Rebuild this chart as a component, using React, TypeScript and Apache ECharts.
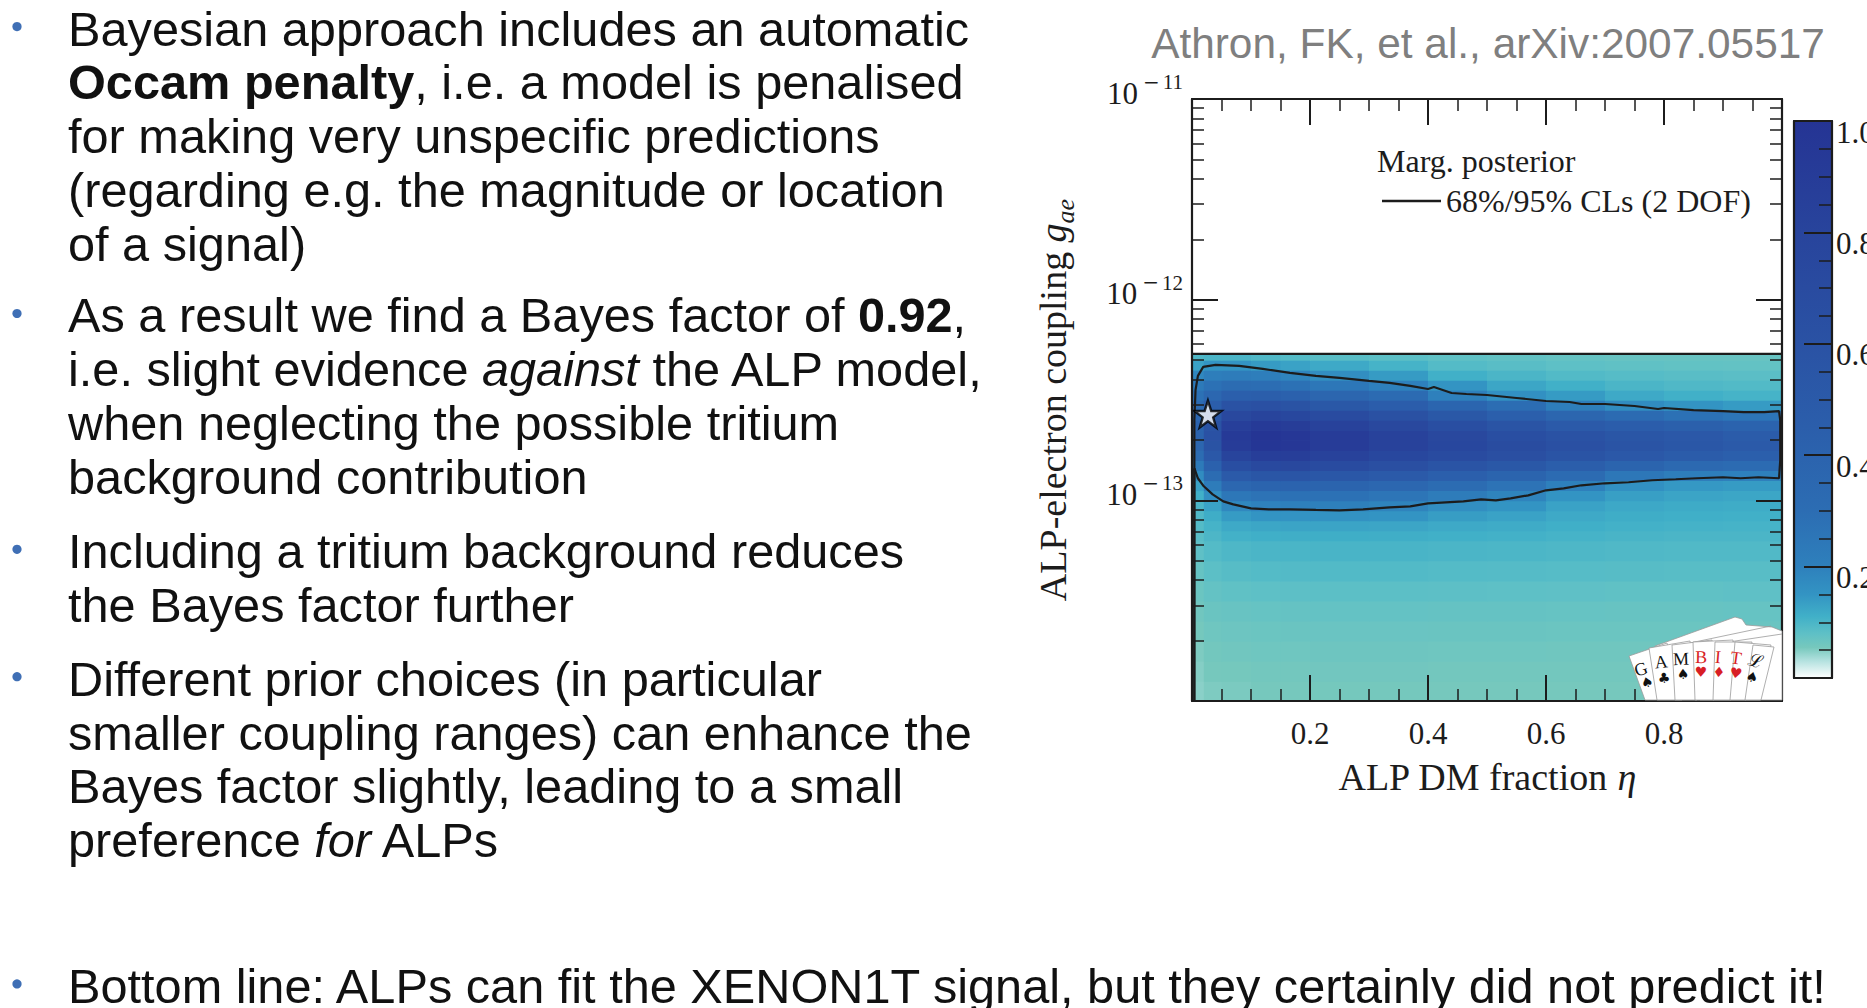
import React, { useEffect, useRef } from 'react';
import * as echarts from 'echarts';

// ---------------- slide text ----------------
const citation = 'Athron, FK, et al., arXiv:2007.05517';
const bullet1 = [
  'Bayesian approach includes an automatic',
  '{b|Occam penalty}, i.e. a model is penalised',
  'for making very unspecific predictions',
  '(regarding e.g. the magnitude or location',
  'of a signal)',
];
const bullet2 = [
  'As a result we find a Bayes factor of {b|0.92},',
  'i.e. slight evidence {i|against} the ALP model,',
  'when neglecting the possible tritium',
  'background contribution',
];
const bullet3 = ['Including a tritium background reduces', 'the Bayes factor further'];
const bullet4 = [
  'Different prior choices (in particular',
  'smaller coupling ranges) can enhance the',
  'Bayes factor slightly, leading to a small',
  'preference {i|for} ALPs',
];
const bottomLine = 'Bottom line: ALPs can fit the XENON1T signal, but they certainly did not predict it!';

// ---------------- chart data ----------------
// ALP DM fraction eta: column edges of the posterior grid
const etaEdges = [0, 0.02, 0.05, 0.1, 0.15, 0.2, 0.3, 0.4, 0.5, 0.6, 0.7, 0.8, 0.9, 1.0];
// log10(g_ae): row edges of the posterior grid (bottom -> top, prior edge at top)
const logGEdges = [
  -14.0, -13.9, -13.8, -13.7, -13.6, -13.5, -13.4, -13.3, -13.2, -13.15, -13.1, -13.05, -13.0,
  -12.95, -12.9, -12.85, -12.8, -12.75, -12.7, -12.65, -12.6, -12.55, -12.5, -12.45, -12.4, -12.35,
  -12.3, -12.27,
];
// marginalised posterior (normalised), rows bottom -> top, columns by eta
const posterior = [
  [0.047, 0.052, 0.053, 0.055, 0.055, 0.056, 0.056, 0.055, 0.055, 0.055, 0.055, 0.057, 0.058],
  [0.049, 0.055, 0.056, 0.058, 0.058, 0.059, 0.059, 0.058, 0.058, 0.058, 0.058, 0.059, 0.06],
  [0.052, 0.058, 0.06, 0.062, 0.062, 0.063, 0.063, 0.062, 0.062, 0.061, 0.061, 0.062, 0.063],
  [0.056, 0.062, 0.064, 0.066, 0.067, 0.068, 0.068, 0.067, 0.067, 0.066, 0.066, 0.066, 0.067],
  [0.06, 0.067, 0.07, 0.072, 0.073, 0.074, 0.074, 0.073, 0.073, 0.072, 0.071, 0.071, 0.072],
  [0.066, 0.074, 0.078, 0.08, 0.081, 0.082, 0.082, 0.081, 0.08, 0.079, 0.078, 0.078, 0.079],
  [0.072, 0.082, 0.087, 0.09, 0.091, 0.092, 0.092, 0.09, 0.089, 0.088, 0.087, 0.086, 0.086],
  [0.079, 0.09, 0.097, 0.1, 0.101, 0.102, 0.102, 0.1, 0.099, 0.097, 0.095, 0.094, 0.094],
  [0.085, 0.098, 0.108, 0.112, 0.113, 0.114, 0.113, 0.11, 0.108, 0.105, 0.102, 0.1, 0.1],
  [0.09, 0.105, 0.12, 0.125, 0.127, 0.128, 0.126, 0.12, 0.117, 0.112, 0.108, 0.106, 0.105],
  [0.095, 0.115, 0.14, 0.15, 0.152, 0.155, 0.15, 0.138, 0.13, 0.12, 0.115, 0.112, 0.11],
  [0.1, 0.13, 0.18, 0.195, 0.2, 0.2, 0.19, 0.165, 0.15, 0.13, 0.122, 0.118, 0.116],
  [0.11, 0.165, 0.25, 0.27, 0.28, 0.28, 0.26, 0.22, 0.19, 0.15, 0.135, 0.128, 0.125],
  [0.13, 0.22, 0.36, 0.39, 0.4, 0.39, 0.36, 0.31, 0.27, 0.2, 0.16, 0.145, 0.14],
  [0.17, 0.31, 0.5, 0.55, 0.56, 0.54, 0.5, 0.44, 0.39, 0.32, 0.25, 0.21, 0.2],
  [0.23, 0.42, 0.66, 0.73, 0.74, 0.7, 0.64, 0.58, 0.53, 0.45, 0.39, 0.34, 0.32],
  [0.31, 0.52, 0.8, 0.88, 0.88, 0.83, 0.76, 0.7, 0.64, 0.57, 0.52, 0.47, 0.44],
  [0.37, 0.59, 0.9, 0.98, 0.96, 0.9, 0.82, 0.76, 0.69, 0.63, 0.58, 0.54, 0.5],
  [0.4, 0.61, 0.92, 0.99, 0.96, 0.9, 0.82, 0.74, 0.66, 0.6, 0.55, 0.52, 0.48],
  [0.4, 0.59, 0.86, 0.93, 0.89, 0.83, 0.75, 0.66, 0.57, 0.5, 0.46, 0.43, 0.4],
  [0.37, 0.53, 0.75, 0.8, 0.76, 0.7, 0.62, 0.53, 0.44, 0.37, 0.32, 0.28, 0.26],
  [0.33, 0.45, 0.6, 0.63, 0.59, 0.53, 0.46, 0.38, 0.3, 0.21, 0.17, 0.15, 0.14],
  [0.28, 0.36, 0.44, 0.45, 0.42, 0.37, 0.32, 0.2, 0.16, 0.14, 0.12, 0.11, 0.105],
  [0.23, 0.28, 0.31, 0.3, 0.28, 0.25, 0.2, 0.15, 0.125, 0.11, 0.1, 0.095, 0.092],
  [0.18, 0.21, 0.22, 0.21, 0.19, 0.165, 0.14, 0.11, 0.1, 0.092, 0.088, 0.085, 0.083],
  [0.13, 0.15, 0.15, 0.14, 0.13, 0.12, 0.105, 0.09, 0.085, 0.08, 0.078, 0.076, 0.075],
  [0.095, 0.1, 0.1, 0.095, 0.09, 0.085, 0.082, 0.078, 0.075, 0.072, 0.07, 0.07, 0.07],
];
// 68% credible contour (closed), eta and log10(g_ae)
const contour68Eta = [
  0.004, 0.004, 0.006, 0.01, 0.019, 0.04, 0.08, 0.12, 0.166, 0.21, 0.25, 0.3, 0.335, 0.37, 0.4, 0.41,
  0.44, 0.465, 0.5, 0.55, 0.6, 0.64, 0.66, 0.7, 0.75, 0.79, 0.8, 0.85, 0.9, 0.935, 0.97, 0.995, 0.997,
  0.997, 0.995, 0.96, 0.93, 0.9, 0.856, 0.82, 0.78, 0.74, 0.7, 0.66, 0.63, 0.6, 0.57, 0.54, 0.515,
  0.49, 0.46, 0.43, 0.4, 0.37, 0.335, 0.29, 0.25, 0.21, 0.166, 0.13, 0.1, 0.07, 0.053, 0.035, 0.02,
  0.01, 0.004,
];
const contour68LogG = [
  -12.84, -12.6, -12.45, -12.38, -12.335, -12.325, -12.33, -12.345, -12.365, -12.38, -12.39, -12.405,
  -12.415, -12.43, -12.445, -12.435, -12.465, -12.47, -12.475, -12.49, -12.505, -12.51, -12.52,
  -12.52, -12.53, -12.545, -12.54, -12.55, -12.555, -12.56, -12.56, -12.555, -12.6, -12.8, -12.89,
  -12.885, -12.89, -12.885, -12.89, -12.895, -12.9, -12.91, -12.915, -12.925, -12.94, -12.95,
  -12.975, -12.99, -13.0, -12.995, -13.005, -13.01, -13.015, -13.03, -13.035, -13.045, -13.05,
  -13.048, -13.045, -13.045, -13.04, -13.02, -13.005, -12.97, -12.93, -12.89, -12.84,
];
// 95% contour pieces (prior edge on top, eta ~ 0 edge on the left)
const contour95TopEta = [0, 1];
const contour95TopLogG = [-12.27, -12.27];
const contour95LeftEta = [0.004, 0.004];
const contour95LeftLogG = [-12.84, -14.0];
// best-fit point
const bestFitEta = [0.027];
const bestFitLogG = [-12.57];
// axis / colorbar ranges
const xRange = [0, 1];
const gRange = [1e-14, 1e-11];
const colorbarRange = [0, 1];
// colour map (value, colour)
const cmapStops: [number, string][] = [
  [0.0, '#ffffff'],
  [0.03, '#b5e2e0'],
  [0.055, '#76c8bd'],
  [0.08, '#5ec0c6'],
  [0.11, '#41b0c8'],
  [0.15, '#3394c3'],
  [0.2, '#2e80bc'],
  [0.3, '#2c6db3'],
  [0.45, '#2b5eab'],
  [0.6, '#2a52a4'],
  [0.8, '#28449c'],
  [1.0, '#253494'],
];

const LEG = '68%/95% CLs (2 DOF)';
const SERIF = '"Liberation Serif", "Times New Roman", serif';
const SANS = '"Liberation Sans", Arial, sans-serif';
const NARROW = '"Liberation Sans Narrow", "Liberation Sans", sans-serif';
const INK = '#1c1c1c';
const BODY = '#111111';

function cmap(v: number): string {
  for (let i = 0; i < cmapStops.length - 1; i++) {
    const [a, ca] = cmapStops[i];
    const [b, cb] = cmapStops[i + 1];
    if (v <= b) return echarts.color.lerp((v - a) / (b - a), [ca, cb]) as string;
  }
  return cmapStops[cmapStops.length - 1][1];
}

export default function App() {
  const ref = useRef<HTMLDivElement>(null);
  useEffect(() => {
    const el = ref.current as HTMLDivElement;
    const chart = echarts.init(el, null, { renderer: 'svg' });

    const ctx = document.createElement('canvas').getContext('2d') as CanvasRenderingContext2D;
    ctx.font = `100px ${SANS}`;
    const fitSize =
      (100 * 1778 / ctx.measureText(bottomLine).width + 100 * 888 / ctx.measureText(bullet1[0]).width) / 2;
    const bodySize = Math.min(fitSize, 48.2);
    const bodyScaleX = 1.01;
    ctx.font = `100px ${NARROW}`;
    const citeSize = 100 * 674 / ctx.measureText(citation).width;

    const palette: string[] = [];
    for (let i = 0; i <= 200; i++) palette.push(cmap(i / 200));

    const heatData: number[][] = [];
    for (let r = 0; r < logGEdges.length - 1; r++) {
      for (let c = 0; c < etaEdges.length - 1; c++) {
        heatData.push([
          etaEdges[c], etaEdges[c + 1],
          Math.pow(10, logGEdges[r]), Math.pow(10, logGEdges[r + 1]),
          posterior[r][c],
        ]);
      }
    }
    const pairs = (xs: number[], ls: number[]) => xs.map((x, i) => [x, Math.pow(10, ls[i])]);

    const minorLogTicks: number[] = [];
    for (let n = -14; n < -11; n++) for (let k = 2; k <= 9; k++) minorLogTicks.push(n + Math.log10(k));

    const axisLineStyle = { color: INK, width: 2.2 };
    const majorTick = (len: number) => ({ show: true, inside: true, length: len, lineStyle: { color: INK, width: 2 } });
    const minorTickOpt = (len: number) => ({ show: true, splitNumber: 4, length: len, lineStyle: { color: INK, width: 1.5 } });
    const noSplit = { show: false };

    const LH = 42;
    const bodyRich = {
      b: { fontSize: bodySize, fontFamily: SANS, fontWeight: 'bold', fill: BODY, lineHeight: LH },
      i: { fontSize: bodySize, fontFamily: SANS, fontStyle: 'italic', fill: BODY, lineHeight: LH },
    };

    const elements: any[] = [];
    const paragraphs = [bullet1, bullet2, bullet3, bullet4, [bottomLine]];
    const paraTop = [28.6, 315.5, 551.3, 678.7, 985.9];
    const LINE = 53.9;
    paragraphs.forEach((lines, p) => {
      elements.push({ type: 'circle', z: 100, shape: { cx: 17, cy: paraTop[p] - 2, r: 4.6 }, style: { fill: '#3f6fb5' } });
      lines.forEach((txt, i) => {
        elements.push({
          type: 'text', z: 100, x: 68, y: paraTop[p] + i * LINE, scaleX: bodyScaleX,
          style: { text: txt, fontSize: bodySize, fontFamily: SANS, fill: BODY, lineHeight: LH, align: 'left', verticalAlign: 'middle', rich: bodyRich },
        });
      });
    });
    elements.push({
      type: 'text', z: 100, x: 1488, y: 43,
      style: { text: citation, fontSize: citeSize, fontFamily: NARROW, fill: '#7f7f7f', align: 'center', verticalAlign: 'middle' },
    });
    elements.push({
      type: 'text', z: 100, x: 1377, y: 161,
      style: { text: 'Marg. posterior', fontSize: 32, fontFamily: SERIF, fill: INK, align: 'left', verticalAlign: 'middle' },
    });

    // GAMBIT playing-card logo
    const cardStroke = { fill: '#ffffff', stroke: '#9a9a9a', lineWidth: 0.8 };
    elements.push({ type: 'polygon', z: 110, shape: { points: [[1655, 646], [1735, 617], [1742, 619], [1746, 625], [1772, 627], [1782, 631], [1782, 700], [1700, 700]] }, style: cardStroke });
    elements.push({ type: 'line', z: 110, shape: { x1: 1690, y1: 643, x2: 1771, y2: 626 }, style: { stroke: '#9a9a9a', lineWidth: 0.8 } });
    elements.push({ type: 'line', z: 110, shape: { x1: 1722, y1: 643, x2: 1782, y2: 634 }, style: { stroke: '#9a9a9a', lineWidth: 0.8 } });
    const cardPolys = [
      [[1645, 700], [1629, 656], [1667, 643], [1682, 700]],
      [[1657, 700], [1649, 648], [1690, 641], [1697, 700]],
      [[1675, 700], [1672, 645], [1712, 640], [1714, 700]],
      [[1695, 700], [1693, 642], [1733, 640], [1731, 700]],
      [[1713, 700], [1715, 642], [1752, 642], [1746, 700]],
      [[1730, 700], [1735, 642], [1771, 645], [1760, 700]],
      [[1745, 700], [1753, 645], [1774, 647], [1761, 700]],
    ];
    const cardLetters: [string, number, number, number][] = [
      ['G', 1641, 669, 0.3], ['A', 1661, 662, 0.1], ['M', 1681, 659, 0.04], ['B', 1701, 657, -0.02],
      ['I', 1718, 657, -0.08], ['T', 1736, 658, -0.15], ['ℒ', 1756, 661, -0.25],
    ];
    const cardSuits: [string, number, number][] = [
      ['♠', 1647, 682], ['♣', 1664, 678], ['♠', 1683, 674], ['♥', 1701, 672], ['♦', 1719, 672], ['♥', 1736, 673], ['♠', 1752, 677],
    ];
    const redCard = [false, false, false, true, true, true, false];
    cardPolys.forEach((pts, i) => {
      elements.push({ type: 'polygon', z: 111 + i, shape: { points: pts }, style: cardStroke });
      const [ch, lx, ly, rot] = cardLetters[i];
      const col = redCard[i] ? '#d81e25' : '#111111';
      elements.push({ type: 'text', z: 111 + i, x: lx, y: ly, rotation: rot, style: { text: ch, fontSize: 18, fontFamily: i === 6 ? '"DejaVu Serif", serif' : SERIF, fill: col, align: 'center', verticalAlign: 'middle' } });
      const [s, sx, sy] = cardSuits[i];
      elements.push({ type: 'text', z: 111 + i, x: sx, y: sy, rotation: rot, style: { text: s, fontSize: 14, fontFamily: '"DejaVu Sans", sans-serif', fill: col, align: 'center', verticalAlign: 'middle' } });
    });

    const starPath = 'path://M50,0 L61.8,35.1 L98.1,35.1 L68.8,56.7 L79.4,91 L50,70 L20.6,91 L31.2,56.7 L1.9,35.1 L38.2,35.1 Z';

    const option: any = {
      animation: false,
      backgroundColor: '#ffffff',
      grid: [
        { left: 1192, top: 99, width: 590, height: 602, outerBoundsMode: 'none', containLabel: false },
        { left: 1794, top: 121, width: 38, height: 557, outerBoundsMode: 'none', containLabel: false },
      ],
      legend: {
        data: [LEG], left: 1377, top: 180, itemWidth: 59, itemHeight: 2.4, icon: 'rect', selectedMode: false,
        textStyle: { fontFamily: SERIF, fontSize: 32, color: INK },
      },
      visualMap: [{ type: 'continuous', show: false, min: 0, max: 1, dimension: 4, seriesIndex: 0, inRange: { color: palette } }],
      xAxis: [
        {
          gridIndex: 0, type: 'value', position: 'bottom', min: xRange[0], max: xRange[1], interval: 0.2, z: 5,
          axisLine: { show: true, onZero: false, lineStyle: axisLineStyle },
          axisTick: majorTick(26), minorTick: minorTickOpt(12), splitLine: noSplit,
          axisLabel: { show: true, margin: 17, fontSize: 31, fontFamily: SERIF, color: INK, showMinLabel: false, showMaxLabel: false, formatter: (v: number) => v.toFixed(1) },
          name: '{n|ALP DM fraction }{i|η}', nameLocation: 'middle', nameGap: 57,
          nameTextStyle: { rich: {
            n: { fontSize: 38, fontFamily: SERIF, color: INK },
            i: { fontSize: 38, fontFamily: SERIF, fontStyle: 'italic', color: INK },
          } },
        },
        {
          gridIndex: 0, type: 'value', position: 'top', min: xRange[0], max: xRange[1], interval: 0.2, z: 5,
          axisLine: { show: true, onZero: false, lineStyle: axisLineStyle },
          axisTick: majorTick(26), minorTick: minorTickOpt(12), splitLine: noSplit, axisLabel: { show: false },
        },
        {
          gridIndex: 1, type: 'value', position: 'bottom', min: 0, max: 1, z: 5,
          axisLine: { show: true, onZero: false, lineStyle: axisLineStyle },
          axisTick: { show: false }, axisLabel: { show: false }, splitLine: noSplit,
        },
        {
          gridIndex: 1, type: 'value', position: 'top', min: 0, max: 1, z: 5,
          axisLine: { show: true, onZero: false, lineStyle: axisLineStyle },
          axisTick: { show: false }, axisLabel: { show: false }, splitLine: noSplit,
        },
      ],
      yAxis: [
        {
          gridIndex: 0, type: 'log', logBase: 10, min: gRange[0], max: gRange[1], position: 'left', z: 5,
          axisLine: { show: true, onZero: false, lineStyle: axisLineStyle },
          axisTick: majorTick(26), minorTick: { show: false }, splitLine: noSplit,
          axisLabel: {
            show: true, margin: 9, showMinLabel: false,
            formatter: (v: number) => `{b|10}{m|−}{s|${Math.abs(Math.round(Math.log10(v)))}}`,
            rich: {
              b: { fontSize: 31, fontFamily: SERIF, color: INK, height: 31, padding: [6, 0, 18, 0] },
              m: { fontSize: 20, fontFamily: '"DejaVu Serif", serif', color: INK, height: 20, verticalAlign: 'top', padding: [0, 1, 0, 5] },
              s: { fontSize: 21, fontFamily: SERIF, color: INK, height: 21, verticalAlign: 'top', padding: [0, 0, 0, 2] },
            },
          },
          name: '{n|ALP-electron coupling }{g|g}{sub|ae}', nameLocation: 'middle', nameGap: 114, nameRotate: 90,
          nameTextStyle: { rich: {
            n: { fontSize: 38, fontFamily: SERIF, color: INK, height: 38, padding: [0, 0, 6, 0], verticalAlign: 'top' },
            g: { fontSize: 38, fontFamily: SERIF, fontStyle: 'italic', color: INK, height: 38, padding: [0, 0, 6, 0], verticalAlign: 'top' },
            sub: { fontSize: 26, fontFamily: SERIF, fontStyle: 'italic', color: INK, height: 26, verticalAlign: 'bottom' },
          } },
        },
        {
          gridIndex: 0, type: 'value', min: -14, max: -11, position: 'left', z: 5,
          axisLine: { show: false, onZero: false },
          axisTick: { show: true, inside: true, length: 12, customValues: minorLogTicks, lineStyle: { color: INK, width: 1.5 } },
          axisLabel: { show: false }, splitLine: noSplit,
        },
        {
          gridIndex: 0, type: 'log', logBase: 10, min: gRange[0], max: gRange[1], position: 'right', z: 5,
          axisLine: { show: true, onZero: false, lineStyle: axisLineStyle },
          axisTick: majorTick(26), minorTick: { show: false }, splitLine: noSplit, axisLabel: { show: false },
        },
        {
          gridIndex: 0, type: 'value', min: -14, max: -11, position: 'right', z: 5,
          axisLine: { show: false, onZero: false },
          axisTick: { show: true, inside: true, length: 12, customValues: minorLogTicks, lineStyle: { color: INK, width: 1.5 } },
          axisLabel: { show: false }, splitLine: noSplit,
        },
        {
          gridIndex: 1, type: 'value', min: colorbarRange[0], max: colorbarRange[1], interval: 0.2, position: 'right', z: 5,
          axisLine: { show: true, onZero: false, lineStyle: axisLineStyle },
          axisTick: majorTick(28), minorTick: minorTickOpt(13), splitLine: noSplit,
          axisLabel: {
            show: true, margin: 4, showMinLabel: false,
            formatter: (v: number) => `{v|${v.toFixed(1)}}`,
            rich: { v: { fontSize: 31, fontFamily: SERIF, color: INK, height: 31, padding: [22, 0, 0, 0] } },
          },
        },
        {
          gridIndex: 1, type: 'value', min: 0, max: 1, position: 'left', z: 5,
          axisLine: { show: true, onZero: false, lineStyle: axisLineStyle },
          axisTick: { show: false }, axisLabel: { show: false }, splitLine: noSplit,
        },
      ],
      series: [
        {
          type: 'custom', name: 'Marg. posterior', xAxisIndex: 0, yAxisIndex: 0, z: 1, silent: true,
          data: heatData, encode: { x: [0, 1], y: [2, 3] },
          renderItem: (params: any, api: any) => {
            const p0 = api.coord([api.value(0), api.value(2)]);
            const p1 = api.coord([api.value(1), api.value(3)]);
            return {
              type: 'rect',
              shape: { x: p0[0], y: p1[1], width: p1[0] - p0[0] + 0.8, height: p0[1] - p1[1] + 0.8 },
              style: { fill: api.visual('color') },
            };
          },
        },
        {
          type: 'custom', name: 'colorbar', xAxisIndex: 2, yAxisIndex: 4, z: 1, silent: true,
          data: [[0, colorbarRange[0], 1, colorbarRange[1]]], encode: { x: [0, 2], y: [1, 3] },
          renderItem: (params: any, api: any) => {
            const a = api.coord([api.value(0), api.value(1)]);
            const b = api.coord([api.value(2), api.value(3)]);
            return {
              type: 'rect',
              shape: { x: a[0], y: b[1], width: b[0] - a[0], height: a[1] - b[1] },
              style: { fill: new echarts.graphic.LinearGradient(0, 1, 0, 0, cmapStops.map(([o, c]) => ({ offset: o, color: c }))) },
            };
          },
        },
        {
          type: 'line', name: LEG, xAxisIndex: 0, yAxisIndex: 0, z: 3, silent: true,
          data: pairs(contour68Eta, contour68LogG), symbol: 'none', showSymbol: false,
          lineStyle: { color: INK, width: 2.2 }, itemStyle: { color: INK },
        },
        {
          type: 'line', name: LEG, xAxisIndex: 0, yAxisIndex: 0, z: 3, silent: true,
          data: pairs(contour95TopEta, contour95TopLogG), symbol: 'none', showSymbol: false,
          lineStyle: { color: INK, width: 2.2 }, itemStyle: { color: INK },
        },
        {
          type: 'line', name: LEG, xAxisIndex: 0, yAxisIndex: 0, z: 3, silent: true,
          data: pairs(contour95LeftEta, contour95LeftLogG), symbol: 'none', showSymbol: false,
          lineStyle: { color: INK, width: 2.6 }, itemStyle: { color: INK },
        },
        {
          type: 'scatter', name: 'best fit', xAxisIndex: 0, yAxisIndex: 0, z: 4, silent: true,
          data: pairs(bestFitEta, bestFitLogG), symbol: starPath, symbolSize: 27,
          itemStyle: { color: '#ffffff', borderColor: '#000000', borderWidth: 2.4 },
        },
      ],
      graphic: { elements },
    };
    chart.setOption(option);
    return () => chart.dispose();
  }, []);
  return <div ref={ref} style={{ position: 'fixed', left: 0, top: 0, width: 1867, height: 1008, background: '#fff' }} />;
}
